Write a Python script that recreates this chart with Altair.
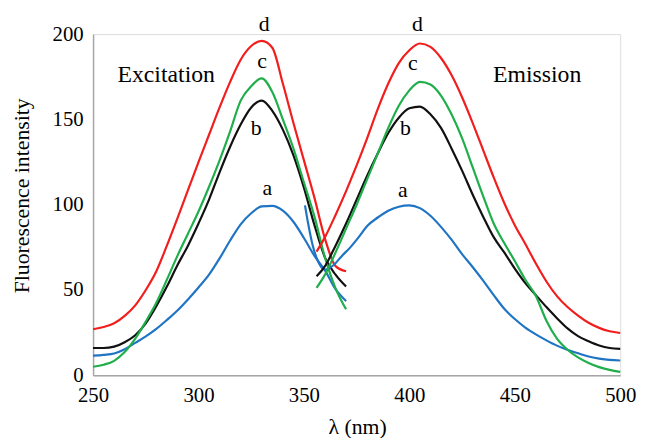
import altair as alt
import pandas as pd

# ---------------- data ----------------
ex_wl = [250, 255, 260, 265, 270, 275, 280, 285, 290, 295, 300, 305, 310,
         315, 320, 325, 330, 335, 340, 345, 350, 355, 360, 365, 370]
ex_a = [11.5, 12, 12.8, 15.3, 19, 22.8, 27.2, 32.4, 38, 44.5, 51.5, 59, 68.5,
        79, 88.5, 95, 99, 99.3, 96.5, 90, 80.5, 70, 61.5, 50.5, 43.5]
ex_b = [16, 16, 16.8, 19.4, 23.5, 30.5, 40.5, 52, 64.5, 76, 89, 103, 119,
        134, 147, 157, 161, 155, 144, 129, 110, 88, 69, 59, 52]
ex_c = [5, 6.2, 8.5, 13.6, 21.5, 31.5, 42.5, 56, 70, 83, 96, 110.5, 126,
        143, 161, 169.5, 174, 166, 150, 133, 113, 93, 69, 51, 38.7]
ex_d = [27, 28.3, 30.5, 34.8, 41, 50, 61, 76, 92, 108.5, 125, 141, 157,
        172, 185, 193, 196, 192, 171, 148, 126, 104, 80, 64, 61]

em_wl = [356, 360, 365, 370, 375, 380, 385, 390, 395, 400, 405, 410, 415, 420,
         425, 430, 435, 440, 445, 450, 455, 460, 465, 470, 475, 480, 485, 490,
         495, 500]
em_b = [58, 64, 76, 89, 103, 117, 130, 142, 151, 156.5, 157.5, 153, 145, 133,
        120, 106, 93, 81, 72, 62.5, 54, 47, 40, 33.5, 27.5, 23, 20, 17.5, 16, 15.5]
em_c = [51.3, 59, 72, 86, 100, 115, 130, 145, 158, 167, 172, 170.5, 164, 153,
        139, 122, 105, 89, 77.5, 67, 56, 46.5, 32, 21.5, 15, 10.5, 7.2, 4.8, 3.2, 2]
em_d = [72.5, 81, 94, 108, 123, 139, 156, 171, 183, 190.5, 194.5, 192.5, 186, 176,
        163, 148, 132, 116, 101, 88, 77, 65.5, 55, 46.4, 40, 35, 30.8, 27.8, 25.8, 24.8]

em_a_wl = [350.5, 352, 354, 357, 360, 364, 368, 372, 376, 380, 385, 390, 395, 400,
           405, 410, 415, 420, 425, 430, 435, 440, 445, 450, 455, 460, 465, 470,
           475, 480, 485, 490, 495, 500]
em_a = [99.6, 89, 77, 66, 62, 64.5, 70, 75, 81, 87.5, 92.5, 96.5, 98.8, 99.6,
        98, 93.5, 87, 79.5, 71, 63.5, 55.5, 47, 39, 33, 28, 24, 20.5, 17.4,
        15, 12.9, 11, 9.8, 9, 8.7]

curves = ["a", "b", "c", "d"]
colors = ["#1f74c4", "#111111", "#1fae4b", "#f21d1d"]

label_text = ["d", "d", "c", "c", "b", "b", "a", "a"]
label_wl = [331.1, 403.8, 330.2, 401.7, 327.4, 398.2, 332.6, 396.9]
label_val = [202.1, 202.1, 179.9, 179.0, 140.9, 140.9, 105.4, 104.4]

region_text = ["Excitation", "Emission"]
region_wl = [284.7, 460.6]
region_val = [172.2, 172.2]

x_ticks = [250, 300, 350, 400, 450, 500]
y_ticks = [0, 50, 100, 150, 200]

# ---------------- build tables ----------------
rows = []
def add(wls, vals, curve, seg):
    for w, v in zip(wls, vals):
        rows.append({"wl": w, "val": v, "curve": curve, "key": curve + "_" + seg})

add(ex_wl, ex_a, "a", "ex")
add(ex_wl, ex_b, "b", "ex")
add(ex_wl, ex_c, "c", "ex")
add(ex_wl, ex_d, "d", "ex")
add(em_a_wl, em_a, "a", "em")
add(em_wl, em_b, "b", "em")
add(em_wl, em_c, "c", "em")
add(em_wl, em_d, "d", "em")
df = pd.DataFrame(rows)

labels = pd.DataFrame({"t": label_text, "wl": label_wl, "val": label_val})
regions = pd.DataFrame({"t": region_text, "wl": region_wl, "val": region_val})

FONT = "Liberation Serif"

x_scale = alt.Scale(domain=[250, 500], nice=False, zero=False)
y_scale = alt.Scale(domain=[0, 200], nice=False)

lines = alt.Chart(df).mark_line(strokeWidth=2.2, interpolate="monotone").encode(
    x=alt.X("wl:Q", scale=x_scale,
            axis=alt.Axis(values=x_ticks, title="λ (nm)", grid=False, ticks=False,
                          labelFlush=False, labelOverlap=False,
                          labelFont=FONT, labelFontSize=21, labelColor="#000",
                          labelPadding=9, domainColor="#a6a6a6", domainWidth=1.5,
                          titleFont=FONT, titleFontSize=22, titleFontWeight="normal",
                          titleColor="#000", titleX=267, titleY=52,
                          titleBaseline="middle")),
    y=alt.Y("val:Q", scale=y_scale,
            axis=alt.Axis(values=y_ticks, title="Fluorescence intensity", grid=False,
                          ticks=False, labelFlush=False, labelOverlap=False,
                          labelFont=FONT, labelFontSize=21,
                          labelColor="#000", labelPadding=10,
                          domainColor="#a6a6a6", domainWidth=1.5,
                          titleFont=FONT, titleFontSize=22, titleFontWeight="normal",
                          titleColor="#000", titleX=-72, titleY=163,
                          titleBaseline="middle", titleAlign="center")),
    color=alt.Color("curve:N", scale=alt.Scale(domain=curves, range=colors), legend=None),
    detail="key:N",
    order=alt.Order("wl:Q"),
)

letter_marks = alt.Chart(labels).mark_text(
    font=FONT, fontSize=22, color="#000", align="center", baseline="alphabetic"
).encode(x=alt.X("wl:Q", scale=x_scale), y=alt.Y("val:Q", scale=y_scale), text="t:N")

region_marks = alt.Chart(regions).mark_text(
    font=FONT, fontSize=24, color="#000", align="center", baseline="alphabetic"
).encode(x=alt.X("wl:Q", scale=x_scale), y=alt.Y("val:Q", scale=y_scale), text="t:N")

chart = alt.layer(lines, letter_marks, region_marks).properties(
    width=533, height=345,
    autosize=alt.AutoSizeParams(type="none"),
    padding={"left": 86, "top": 24, "right": 20, "bottom": 61},
).configure_view(stroke=None).configure(background="white")

chart.save("out.html", embed_options={"renderer": "svg", "actions": False})
